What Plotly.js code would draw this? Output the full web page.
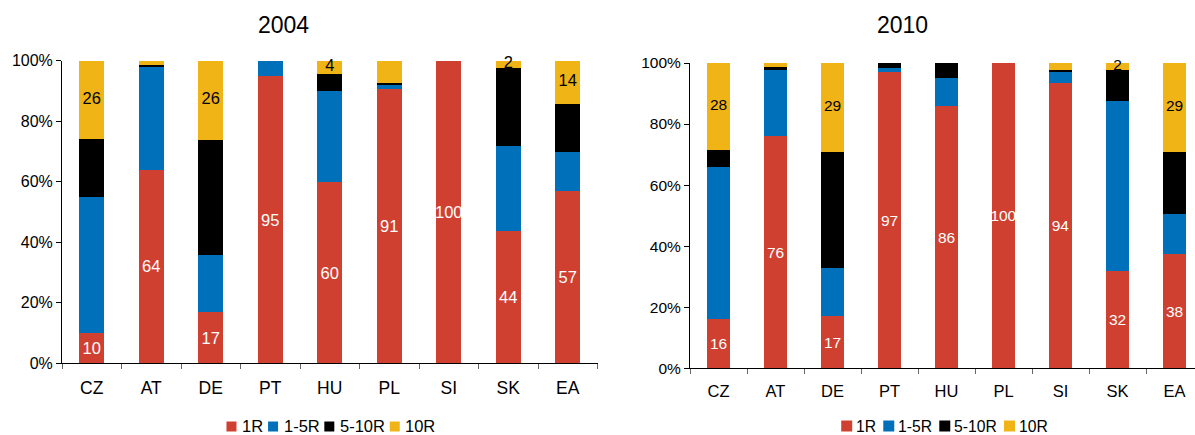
<!DOCTYPE html>
<html><head><meta charset="utf-8">
<script src="https://cdn.plot.ly/plotly-3.0.1.min.js"></script>
<style>html,body{margin:0;padding:0;background:#fff}#chart{width:1195px;height:435px}</style>
</head><body><div id="chart"></div>
<script>
const categories = ["CZ","AT","DE","PT","HU","PL","SI","SK","EA"];
const seriesNames = ["1R","1-5R","5-10R","10R"];
const seriesColors = ["#D04030","#0070BA","#000000","#F0B416"];

// 2004 shares (%)
const r1_2004     = [10, 64, 17, 95, 60, 90.5, 100, 43.7, 57];
const r1to5_2004  = [45, 34, 18.8, 5, 30, 1.4, 0, 28.1, 12.9];
const r5to10_2004 = [19, 0.7, 38, 0, 5.6, 0.8, 0, 25.8, 15.9];
const r10_2004    = [26, 1.3, 26.2, 0, 4.4, 7.3, 0, 2.4, 14.2];
const labels1R_2004  = ["10","64","17","95","60","91","100","44","57"];
const labels10R_2004 = ["26","","26","","4","","","2","14"];

// 2010 shares (%)
const r1_2010     = [16, 76, 17, 97, 86, 100, 93.5, 32, 37.5];
const r1to5_2010  = [50, 21.7, 15.7, 1.5, 9, 0, 3.5, 55.5, 13];
const r5to10_2010 = [5.5, 1, 38.3, 1.5, 5, 0, 0.7, 10.2, 20.3];
const r10_2010    = [28.5, 1.3, 29, 0, 0, 0, 2.3, 2.3, 29.2];
const labels1R_2010  = ["16","76","17","97","86","100","94","32","38"];
const labels10R_2010 = ["28","","29","","","","","2","29"];

const FONT = "Liberation Sans, Arial, sans-serif";
const W=1195, H=435;

function makeTraces(vals, labels1R, labels10R, xa, ya, width, fsize){
  const out = vals.map((v,i)=>{
    const t = {
      type:'bar', x:categories, y:v, xaxis:xa, yaxis:ya, width:width,
      name:seriesNames[i], marker:{color:seriesColors[i], line:{width:0}},
      hoverinfo:'skip', showlegend:false
    };
    if(i===0){
      t.text = labels1R;
      t.textposition = 'inside';
      t.insidetextanchor = 'middle';
      t.textangle = 0;
      t.constraintext = 'none';
      t.insidetextfont = {family:FONT, size:fsize, color:'#ffffff'};
    } else {
      t.textposition = 'none';
    }
    return t;
  });
  // labels of the top (10R) segment, placed at the middle of that segment
  const mid = categories.map((c,k)=>vals[0][k]+vals[1][k]+vals[2][k]+vals[3][k]/2);
  out.push({type:'scatter', mode:'text', x:categories, y:mid, text:labels10R, xaxis:xa, yaxis:ya,
    textposition:'middle center', textfont:{family:FONT, size:fsize, color:'#000000'},
    cliponaxis:false, hoverinfo:'skip', showlegend:false});
  return out;
}

const traces = [].concat(
  makeTraces([r1_2004,r1to5_2004,r5to10_2004,r10_2004], labels1R_2004, labels10R_2004, 'x','y',0.42,16.5),
  makeTraces([r1_2010,r1to5_2010,r5to10_2010,r10_2010], labels1R_2010, labels10R_2010, 'x2','y2',0.40,15.5)
);

const shapes = [];
const annotations = [
  {text:'2004', xref:'paper', yref:'paper', x:283/W, y:(H-25)/H, xanchor:'center', yanchor:'middle', showarrow:false, font:{size:23}},
  {text:'2010', xref:'paper', yref:'paper', x:902/W, y:(H-25)/H, xanchor:'center', yanchor:'middle', showarrow:false, font:{size:23}}
];

const ctx = document.createElement('canvas').getContext('2d');
function tw(t, fs){ ctx.font = fs + 'px "Liberation Sans", Arial, sans-serif'; return ctx.measureText(t).width; }

// legend: colour square + name, laid out from the series arrays
function buildLegend(cx, baseline, fs, sq, gapIn, gapOut){
  const widths = seriesNames.map(n=>tw(n,fs));
  const total = widths.reduce((a,w)=>a+sq+gapIn+w,0) + gapOut*(seriesNames.length-1);
  let x = cx - total/2;
  const yMid = baseline - 0.35*fs;
  seriesNames.forEach((n,i)=>{
    shapes.push({type:'rect', xref:'paper', yref:'paper', x0:x/W, x1:(x+sq)/W,
      y0:(H-baseline)/H, y1:(H-(baseline-sq))/H, fillcolor:seriesColors[i], line:{width:0}});
    x += sq+gapIn;
    annotations.push({text:n, xref:'paper', yref:'paper', x:x/W, y:(H-yMid)/H, xanchor:'left', yanchor:'middle',
      showarrow:false, font:{size:fs}, borderpad:0});
    x += widths[i]+gapOut;
  });
}
buildLegend(330.5, 431.5, 16.5, 10, 4.5, 6);
buildLegend(944, 431.5, 15.7, 11, 3, 8);

const xBase = {type:'category', showgrid:false, zeroline:false, showline:true, linecolor:'#000', linewidth:1,
  ticks:'outside', tickson:'boundaries', ticklen:5, tickcolor:'#666', fixedrange:true};
const yBase = {range:[0,100], dtick:20, ticksuffix:'%', showgrid:false, zeroline:false, showline:true,
  linecolor:'#000', linewidth:1, ticks:'outside', ticklen:5, tickcolor:'#000', fixedrange:true};

const layout = {
  width:W, height:H, margin:{l:0,r:0,t:0,b:0}, paper_bgcolor:'#fff', plot_bgcolor:'#fff',
  barmode:'stack', showlegend:false,
  font:{family:FONT, color:'#000'},
  xaxis:Object.assign({}, xBase, {domain:[62/W, 597.5/W], range:[-0.5,8.5], anchor:'y', tickfont:{size:17.5}, ticklabelstandoff:9}),
  yaxis:Object.assign({}, yBase, {domain:[(H-363.3)/H, (H-60.7)/H], anchor:'x', tickfont:{size:16}}),
  xaxis2:Object.assign({}, xBase, {domain:[690/W, 1], range:[-0.5, -0.5+505/57], anchor:'y2', tickfont:{size:16.5}, ticklabelstandoff:8}),
  yaxis2:Object.assign({}, yBase, {domain:[(H-368.3)/H, (H-63)/H], anchor:'x2', tickfont:{size:15.5}}),
  shapes:shapes,
  annotations:annotations
};

Plotly.newPlot('chart', traces, layout, {displayModeBar:false, staticPlot:true});
</script>
</body></html>
